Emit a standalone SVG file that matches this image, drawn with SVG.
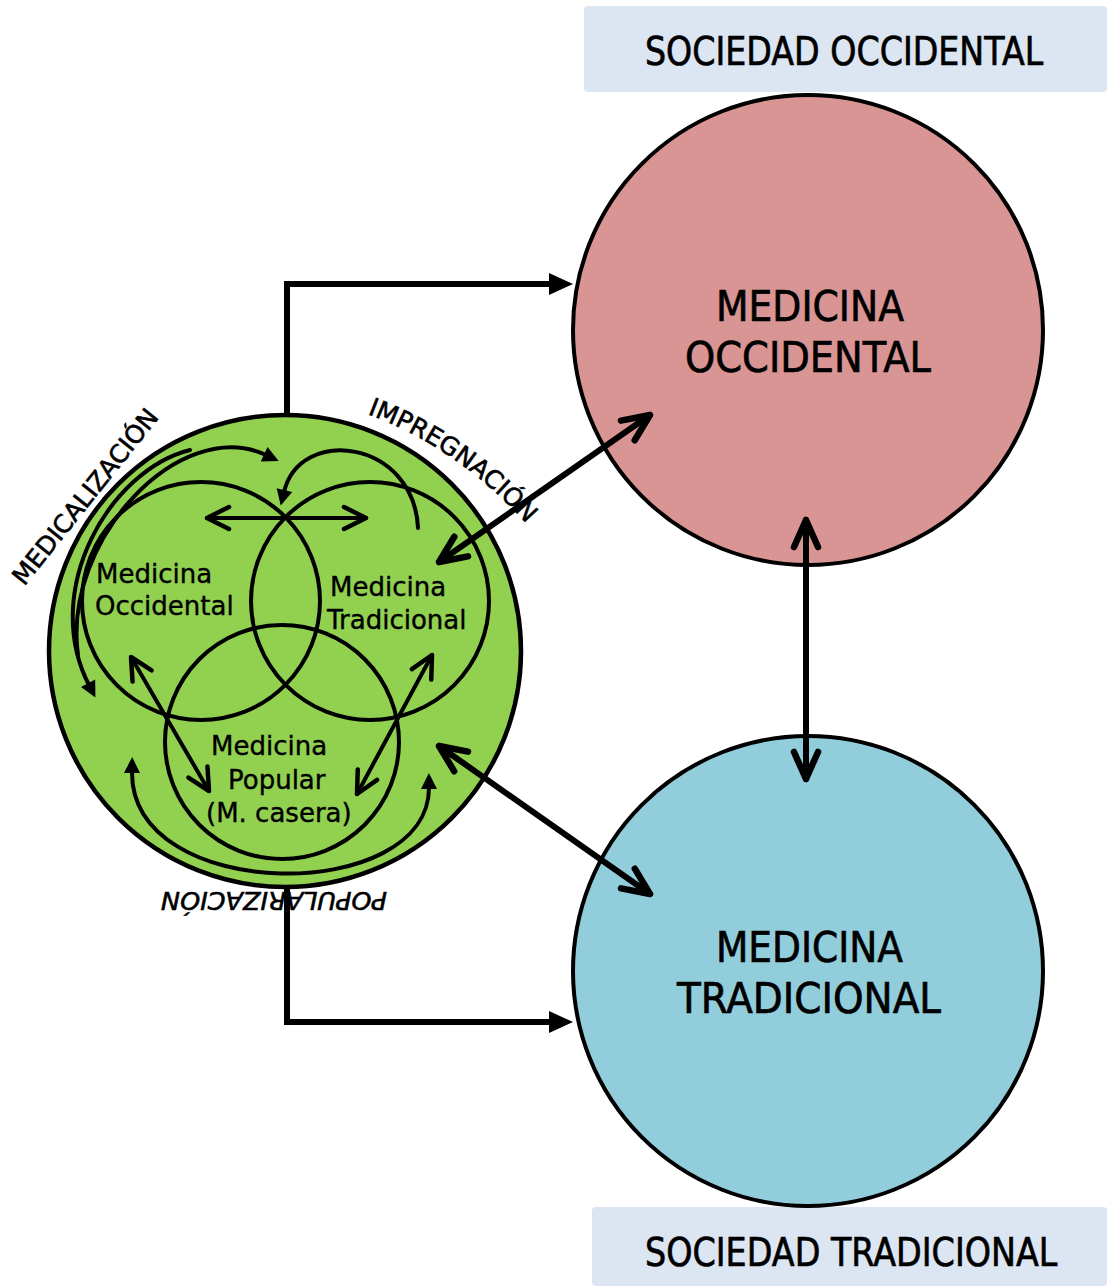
<svg xmlns="http://www.w3.org/2000/svg" width="1109" height="1288" viewBox="0 0 1109 1288">
  <style>
    .hdr { font-family: "DejaVu Sans", "Liberation Sans", sans-serif; font-size: 39px; fill: #000; stroke: #000; stroke-width: 0.7px; }
    .big { font-family: "DejaVu Sans", "Liberation Sans", sans-serif; font-size: 42px; fill: #000; stroke: #000; stroke-width: 0.7px; }
    .venn { font-family: "DejaVu Sans", "Liberation Sans", sans-serif; font-size: 26px; fill: #000; stroke: #000; stroke-width: 0.4px; }
    .proc { font-family: "DejaVu Sans", "Liberation Sans", sans-serif; font-size: 25px; fill: #000; stroke: #000; stroke-width: 0.6px; }
    .ring { fill: none; stroke: #000; stroke-width: 4; }
    .thin { fill: none; stroke: #000; stroke-width: 4; stroke-linecap: round; }
    .thick { fill: none; stroke: #000; stroke-width: 6; stroke-linecap: round; }
    .elbow { fill: none; stroke: #000; stroke-width: 6; stroke-linejoin: miter; }
  </style>
  <defs>
    <marker id="veeL" markerUnits="userSpaceOnUse" orient="auto-start-reverse" viewBox="-36 -20 44 40" markerWidth="44" markerHeight="40" refX="0" refY="0">
      <path d="M -27 -12 L 0 0 L -27 12" fill="none" stroke="#000" stroke-width="6.5" stroke-linecap="round" stroke-linejoin="round"/>
    </marker>
    <marker id="veeS" markerUnits="userSpaceOnUse" orient="auto-start-reverse" viewBox="-30 -18 36 36" markerWidth="36" markerHeight="36" refX="0" refY="0">
      <path d="M -22 -11 L 0 0 L -22 11" fill="none" stroke="#000" stroke-width="4.5" stroke-linecap="round" stroke-linejoin="round"/>
    </marker>
    <marker id="triL" markerUnits="userSpaceOnUse" orient="auto" viewBox="-10 -15 35 30" markerWidth="35" markerHeight="30" refX="0" refY="0">
      <path d="M -4 -11 L 20 0 L -4 11 Z" fill="#000"/>
    </marker>
    <marker id="triS" markerUnits="userSpaceOnUse" orient="auto-start-reverse" viewBox="-10 -12 30 24" markerWidth="30" markerHeight="24" refX="0" refY="0">
      <path d="M -2 -8 L 14 0 L -2 8 Z" fill="#000"/>
    </marker>
    <path id="impregPath" d="M 362 412 A 400 400 0 0 1 530 528"/>
  </defs>

  <!-- header boxes -->
  <g id="sociedad-occidental">
    <rect x="584" y="6" width="523" height="86" rx="4" fill="#DCE6F2"/>
    <text class="hdr" transform="translate(645 65) scale(0.853 1)" x="0" y="0">SOCIEDAD OCCIDENTAL</text>
  </g>
  <g id="sociedad-tradicional">
    <rect x="592" y="1207" width="515" height="79" rx="4" fill="#DCE6F2"/>
    <text class="hdr" transform="translate(645 1266) scale(0.856 1)" x="0" y="0">SOCIEDAD TRADICIONAL</text>
  </g>

  <!-- big circles -->
  <g id="medicina-occidental-big">
    <circle cx="808" cy="330" r="235" fill="#D99594" stroke="#000" stroke-width="4"/>
    <text class="big" x="716" y="321" textLength="188" lengthAdjust="spacingAndGlyphs">MEDICINA</text>
    <text class="big" x="685" y="372" textLength="246" lengthAdjust="spacingAndGlyphs">OCCIDENTAL</text>
  </g>
  <g id="medicina-tradicional-big">
    <circle cx="808" cy="971" r="235" fill="#92CDDC" stroke="#000" stroke-width="4"/>
    <text class="big" x="716" y="962" textLength="187" lengthAdjust="spacingAndGlyphs">MEDICINA</text>
    <text class="big" x="677" y="1013" textLength="264" lengthAdjust="spacingAndGlyphs">TRADICIONAL</text>
  </g>

  <!-- green system -->
  <g id="sistema-medico">
    <circle cx="285" cy="651" r="236" fill="#92D050" stroke="#000" stroke-width="4.5"/>
    <text class="proc" transform="translate(92 502) rotate(-51.4)" x="0" y="0" text-anchor="middle">MEDICALIZACIÓN</text>
    <text class="proc"><textPath href="#impregPath" startOffset="50%" text-anchor="middle">IMPREGNACIÓN</textPath></text>
    <text class="proc" font-style="italic" transform="rotate(180 274 892)" x="274" y="892" text-anchor="middle" textLength="226" lengthAdjust="spacingAndGlyphs">POPULARIZACIÓN</text>
  </g>
  <g id="venn-occidental">
    <circle class="ring" cx="201" cy="601" r="119"/>
    <text class="venn" x="96" y="583">Medicina</text>
    <text class="venn" x="95" y="615">Occidental</text>
  </g>
  <g id="venn-tradicional">
    <circle class="ring" cx="370" cy="601" r="119"/>
    <text class="venn" x="330" y="596">Medicina</text>
    <text class="venn" x="327" y="629">Tradicional</text>
  </g>
  <g id="venn-popular">
    <circle class="ring" cx="282" cy="742" r="117"/>
    <text class="venn" x="211" y="755">Medicina</text>
    <text class="venn" x="228" y="789">Popular</text>
    <text class="venn" x="206" y="822">(M. casera)</text>
  </g>

  <!-- connectors -->
  <g id="connectors">
    <!-- curved process arrows -->
    <path class="thin" d="M 78 655 C 62 540, 180 415, 266 455" marker-end="url(#triS)"/>
    <path class="thin" d="M 190 450 C 110 470, 40 590, 89 685" marker-end="url(#triS)"/>
    <path class="thin" d="M 418 528 C 414 440, 300 425, 284 492" marker-end="url(#triS)"/>
    <path class="thin" d="M 132 771 C 130 905, 430 905, 429 787" marker-start="url(#triS)" marker-end="url(#triS)"/>
    <!-- straight inner double arrows -->
    <line class="thin" x1="207" y1="518" x2="366" y2="518" marker-start="url(#veeS)" marker-end="url(#veeS)"/>
    <line class="thin" x1="131" y1="657" x2="209" y2="791" marker-start="url(#veeS)" marker-end="url(#veeS)"/>
    <line class="thin" x1="432" y1="655" x2="357" y2="794" marker-start="url(#veeS)" marker-end="url(#veeS)"/>
    <!-- elbow connectors -->
    <path class="elbow" d="M 287 417 V 284 H 553" marker-end="url(#triL)"/>
    <path class="elbow" d="M 287 885 V 1022 H 553" marker-end="url(#triL)"/>
    <!-- big double arrows -->
    <line class="thick" x1="439" y1="562" x2="650" y2="415" marker-start="url(#veeL)" marker-end="url(#veeL)"/>
    <line class="thick" x1="439" y1="746" x2="650" y2="894" marker-start="url(#veeL)" marker-end="url(#veeL)"/>
    <line class="thick" x1="806" y1="520" x2="806" y2="779" marker-start="url(#veeL)" marker-end="url(#veeL)"/>
  </g>
</svg>
